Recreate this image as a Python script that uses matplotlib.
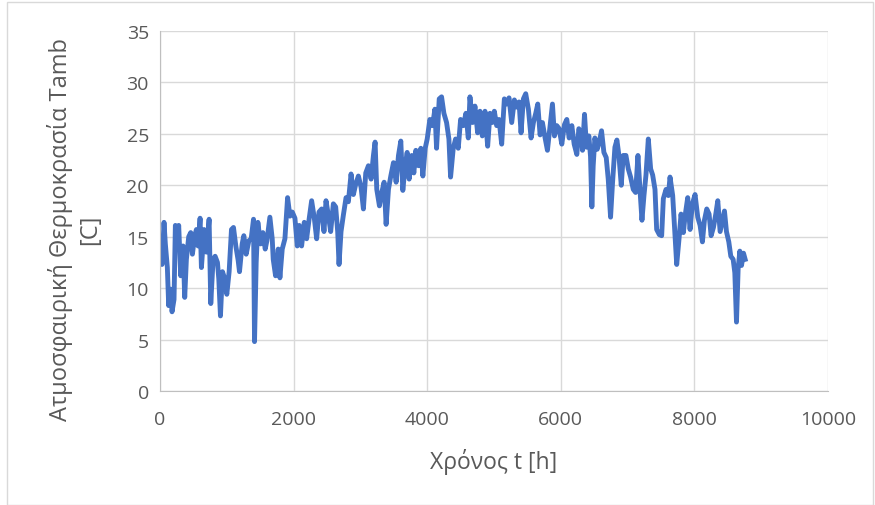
import matplotlib
matplotlib.use("Agg")
import matplotlib.pyplot as plt
from matplotlib.patches import Rectangle

plt.rcParams['font.family'] = ['Open Sans', 'DejaVu Sans']

# hourly ambient temperature
hours = [0, 30, 60, 80, 110, 130, 160, 180, 210, 230, 260, 280, 310, 345, 370, 395, 430, 460, 485, 520,
         545, 570, 600, 620, 660, 695, 735, 760, 795, 825, 860, 880, 905, 935, 970, 1000, 1035, 1070,
         1100, 1135, 1170, 1190, 1230, 1255, 1290, 1330, 1365, 1400, 1415, 1440, 1465, 1505, 1540,
         1575, 1600,
         1645, 1680, 1695, 1730, 1770, 1795, 1830, 1870, 1910, 1945, 1980, 2020, 2055, 2085, 2120,
         2160, 2195, 2230, 2270, 2310, 2345, 2380, 2420, 2455, 2485, 2520, 2555, 2595, 2630, 2660,
         2680, 2710, 2745, 2785, 2820, 2860, 2895, 2930, 2970, 3010, 3045, 3080, 3120, 3160, 3195,
         3220, 3245, 3285, 3320, 3355, 3385, 3420, 3455, 3495, 3535, 3570, 3605, 3635, 3670, 3700,
         3730, 3770, 3800, 3830, 3870, 3905, 3935, 3970, 4000, 4040, 4080, 4115, 4140, 4180, 4215,
         4250, 4290, 4325, 4350, 4390, 4425, 4465, 4500, 4540, 4580, 4615, 4640, 4680,
         4715, 4755, 4790, 4825, 4865, 4905, 4940, 4975, 5005, 5040, 5075, 5115, 5155, 5190, 5225,
         5265, 5305, 5340, 5375, 5405, 5440, 5475, 5515, 5555, 5590, 5625, 5655, 5690, 5725, 5765,
         5800, 5840, 5875, 5905, 5940, 5975, 6015, 6055, 6090, 6125, 6165, 6200, 6240, 6270, 6310,
         6325, 6355, 6385, 6420, 6445, 6465, 6485, 6510, 6545, 6575, 6610, 6645, 6680, 6710, 6745,
         6775, 6810, 6840, 6870, 6905, 6935, 6975, 7010, 7045, 7085, 7120, 7155, 7185, 7215, 7245,
         7275, 7310, 7345, 7375, 7410, 7435, 7475, 7510, 7535, 7575, 7610, 7635, 7675, 7710, 7735,
         7770, 7800, 7835,
         7860, 7900, 7935, 7970, 8010, 8050, 8085, 8120, 8150, 8185, 8220, 8250, 8285, 8320, 8350,
         8385, 8420, 8450, 8480, 8515, 8545, 8580, 8605, 8630, 8655, 8680, 8705, 8735, 8760]
tamb = [13.8, 12.3, 16.4, 14.3, 12.0, 8.3, 9.9, 7.7, 8.9, 16.1, 14.8, 16.1, 11.2, 14.1, 9.1, 12.8, 15.0,
        15.4, 13.3, 15.1, 15.7, 14.1, 16.8, 12.0, 15.7, 13.5, 16.7, 8.5, 12.8, 13.1, 12.5, 10.9, 7.3,
        11.6, 10.9, 9.4, 11.6, 15.7, 15.9, 14.1, 12.7, 11.6, 14.3, 15.1, 13.3, 14.6, 14.8, 16.7, 4.8,
        12.5, 16.4, 14.3, 15.4, 13.8, 14.6,
        16.9, 14.8, 12.8, 11.2, 13.8, 11.0, 13.8, 14.8, 18.8, 17.0, 17.4, 16.8, 14.1, 16.1, 14.1,
        16.4, 14.8, 16.6, 18.5, 16.8, 14.8, 17.4, 17.7, 15.5, 18.5, 17.1, 15.5, 18.2, 17.9, 15.5,
        12.3, 15.5, 17.1, 18.8, 18.4, 21.1, 19.1, 20.1, 20.9, 19.8, 17.7, 21.2, 21.9, 20.6, 22.9,
        24.2, 19.6, 18.0, 19.3, 20.3, 16.2, 19.6, 20.9, 22.2, 20.3, 22.9, 24.3, 19.5, 21.9, 23.2,
        20.6, 22.9, 21.2, 23.4, 21.9, 23.6, 20.9, 23.6, 24.5, 26.4, 25.8, 27.4, 23.6, 28.4, 28.6,
        27.0, 26.1, 24.5, 20.8, 23.6, 24.5, 23.6, 26.4, 25.8, 27.0, 24.6, 28.6, 26.1,
        27.7, 25.1, 27.2, 24.8, 27.2, 23.8, 27.0, 26.1, 27.2, 25.8, 26.4, 24.0, 28.4, 27.9, 28.5,
        26.1, 28.3, 27.6, 28.1, 25.1, 28.4, 28.9, 27.4, 24.6, 26.1, 27.0, 27.9, 24.9, 26.1, 24.6,
        23.4, 25.8, 27.9, 24.8, 25.8, 25.5, 24.0, 25.9, 26.4, 24.6, 25.8, 24.0, 23.0, 25.5, 24.9,
        23.4, 26.9, 23.7, 24.8, 22.8, 17.9, 21.9, 24.6, 23.5, 24.2, 25.3, 23.2, 22.7, 20.6, 16.9,
        20.3, 23.7, 24.4, 22.9, 20.0, 22.9, 22.9, 21.6, 20.8, 19.6, 19.3, 22.9, 19.6, 16.6, 19.0,
        21.0, 24.5, 21.6, 21.0, 19.6, 15.7, 15.2, 15.1, 18.7, 19.6, 19.0, 20.8, 19.0, 15.1, 12.3,
        14.8, 17.2, 15.4,
        17.0, 18.8, 15.7, 18.2, 19.1, 16.9, 16.1, 14.5, 16.6, 17.7, 17.2, 15.1, 15.9, 17.2, 18.5,
        15.5, 16.6, 17.5, 15.5, 14.5, 13.1, 12.8, 11.5, 6.7, 11.9, 13.6, 12.2, 13.4, 12.8]

x_ticks = [0, 2000, 4000, 6000, 8000, 10000]
y_ticks = [0, 5, 10, 15, 20, 25, 30, 35]

fig = plt.figure(figsize=(8.75, 5.06), dpi=100)
ax = fig.add_axes([160 / 875, 1 - 392 / 506, 668 / 875, 360 / 506])

ax.plot(hours, tamb, color='#4472C4', linewidth=3.5, solid_joinstyle='round')

ax.set_xlim(0, 10000)
ax.set_ylim(0, 35)
ax.set_xticks(x_ticks)
ax.set_yticks(y_ticks)
ax.grid(True, color='#d9d9d9', linewidth=1)
ax.set_axisbelow(True)
for s in ['top', 'right']:
    ax.spines[s].set_visible(False)
for s in ['left', 'bottom']:
    ax.spines[s].set_color('#bfbfbf')
ax.tick_params(length=0, labelsize=14, colors='#595959')
ax.tick_params(axis='y', pad=8)
ax.tick_params(axis='x', pad=14)

ax.set_xlabel('Χρόνος t [h]', fontsize=16.5, color='#595959', labelpad=14)
ax.set_ylabel('Ατμοσφαιρική Θερμοκρασία Tamb\n[C]', fontsize=17, color='#595959',
              linespacing=1.25)
ax.yaxis.set_label_coords(-0.087, 0.45)

# chart frame
fig.patches.append(Rectangle((7 / 875, 0), 866 / 875, 1 - 3 / 506, transform=fig.transFigure,
                             fill=False, edgecolor='#d9d9d9', linewidth=1))

fig.savefig('out.png', dpi=100)
